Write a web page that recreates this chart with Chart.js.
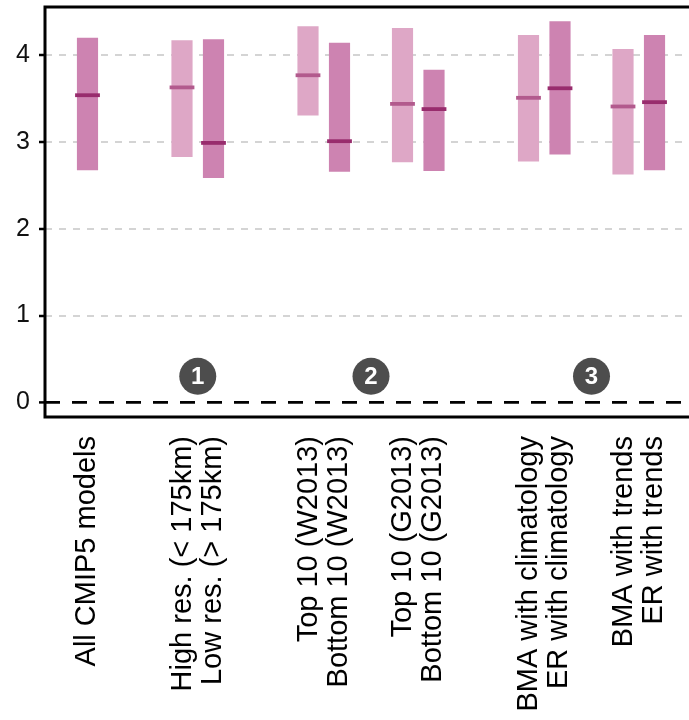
<!DOCTYPE html>
<html>
<head>
<meta charset="utf-8">
<script src="https://cdn.jsdelivr.net/npm/chart.js@4/dist/chart.umd.min.js"></script>
<style>
  html, body { margin: 0; padding: 0; background: #ffffff; overflow: hidden; }
  #wrap { width: 689px; height: 720px; }
</style>
</head>
<body>
<div id="wrap"><canvas id="chart" width="689" height="720"></canvas></div>
<script>
// ---- data -------------------------------------------------------------
// One entry per bar, left to right.
const barNames = [
  'All CMIP5 models',
  'High res. (< 175km)', 'Low res. (> 175km)',
  'Top 10 (W2013)', 'Bottom 10 (W2013)',
  'Top 10 (G2013)', 'Bottom 10 (G2013)',
  'BMA with climatology', 'ER with climatology',
  'BMA with trends', 'ER with trends'
];
const lower  = [2.68, 2.83, 2.59, 3.31, 2.66, 2.77, 2.67, 2.78, 2.86, 2.63, 2.68];
const median = [3.54, 3.63, 2.99, 3.77, 3.01, 3.44, 3.38, 3.51, 3.62, 3.41, 3.46];
const upper  = [4.20, 4.17, 4.18, 4.33, 4.14, 4.31, 3.83, 4.23, 4.39, 4.07, 4.23];
const shade  = ['dark', 'light', 'dark', 'light', 'dark', 'light', 'dark', 'light', 'dark', 'light', 'dark'];

// Bars that share one axis label.
const groups = [[0], [1, 2], [3, 4], [5, 6], [7, 8], [9, 10]];
// Numbered sections and the label groups each one covers.
const sectionNames  = ['1', '2', '3'];
const sectionGroups = [[1], [2, 3], [4, 5]];

const yTickValues = [0, 1, 2, 3, 4];
const yTickLabels = ['0', '1', '2', '3', '4'];

// ---- layout -----------------------------------------------------------
const FONT = '"Liberation Sans", Arial, Helvetica, sans-serif';
const Y_AXIS_W = 45;
const X_AXIS_H = 303;
const TOP_PAD = 7;
const X_MIN = -0.349, X_MAX = 20.095;
const Y_MIN = -0.17, Y_MAX = 4.557;
const LABEL_SIZE = 29, LABEL_LH = 1.05;
const SECTION_MARK_Y = 0.3;

const COLORS = {
  light: { bar: '#dea7c6', med: '#b25a8d' },
  dark:  { bar: '#cd83b1', med: '#982c6d' }
};

// slot of each bar along the axis: one empty slot between label groups,
// one more between numbered sections
const groupOfBar = [];
groups.forEach((bars, g) => bars.forEach(i => { groupOfBar[i] = g; }));
const sectionOfGroup = groups.map((_, g) => sectionGroups.findIndex(s => s.includes(g)) + 1);
const barPos = barNames.map((_, i) => i + groupOfBar[i] + sectionOfGroup[groupOfBar[i]] + 1);
const mean = a => a.reduce((s, v) => s + v, 0) / a.length;
const groupCenters = groups.map(bars => mean(bars.map(i => barPos[i])));
const sectionCenters = sectionGroups.map(gs => mean(gs.map(g => groupCenters[g])));

const isZero = c => c.tick && c.tick.value === 0;

// numbers inside the section badges, and the panel frame
const overlay = {
  id: 'overlay',
  afterDatasetsDraw(chart) {
    const ctx = chart.ctx;
    const meta = chart.getDatasetMeta(0);
    ctx.save();
    ctx.fillStyle = '#ffffff';
    ctx.font = 'bold 24px ' + FONT;
    ctx.textAlign = 'center';
    ctx.textBaseline = 'middle';
    meta.data.forEach((pt, i) => ctx.fillText(sectionNames[i], pt.x, pt.y + 1));
    ctx.restore();
  },
  afterDraw(chart) {
    const { left, top, bottom, right } = chart.chartArea;
    const ctx = chart.ctx;
    ctx.save();
    ctx.strokeStyle = '#000000';
    ctx.lineWidth = 3;
    ctx.lineJoin = 'miter';
    ctx.beginPath();
    ctx.moveTo(right + 4, top);
    ctx.lineTo(left, top);
    ctx.lineTo(left, bottom);
    ctx.lineTo(right + 4, bottom);
    ctx.stroke();
    ctx.restore();
  }
};

new Chart(document.getElementById('chart'), {
  type: 'bar',
  data: {
    datasets: [
      {
        type: 'scatter',
        label: 'sections',
        data: sectionCenters.map(x => ({ x, y: SECTION_MARK_Y })),
        pointRadius: 18.5,
        pointBackgroundColor: '#4d4d4d',
        pointBorderWidth: 0,
        order: 1
      },
      {
        type: 'scatter',
        label: 'median',
        data: barPos.map((x, i) => ({ x, y: median[i] })),
        pointStyle: 'line',
        pointRadius: 12.4,
        pointBorderWidth: 3.8,
        pointBorderColor: shade.map(s => COLORS[s].med),
        order: 2
      },
      {
        type: 'bar',
        label: 'range',
        data: barPos.map((x, i) => ({ x, y: [lower[i], upper[i]] })),
        backgroundColor: shade.map(s => COLORS[s].bar),
        borderWidth: 0,
        barThickness: 20.5,
        grouped: false,
        order: 3
      }
    ]
  },
  options: {
    responsive: false,
    maintainAspectRatio: false,
    animation: false,
    events: [],
    layout: { autoPadding: false, padding: { top: TOP_PAD, left: 0, right: 0, bottom: 0 } },
    plugins: { legend: { display: false }, tooltip: { enabled: false } },
    scales: {
      x: {
        type: 'linear',
        min: X_MIN,
        max: X_MAX,
        offset: false,
        afterBuildTicks: s => {
          // first line of a multi-line label sits on the tick, so shift the
          // tick back by half a line per extra line to centre the block
          const ppu = (s.chart.width - Y_AXIS_W) / (X_MAX - X_MIN);
          const lh = LABEL_SIZE * LABEL_LH;
          s.ticks = groupCenters.map((c, g) => ({ value: c - (groups[g].length - 1) * lh / 2 / ppu }));
        },
        afterFit: s => { s.height = X_AXIS_H; s.paddingLeft = 0; s.paddingRight = 0; },
        ticks: {
          autoSkip: false,
          minRotation: 90,
          maxRotation: 90,
          padding: 19,
          color: '#000000',
          font: { family: FONT, size: LABEL_SIZE, lineHeight: LABEL_LH },
          callback: (v, i) => groups[i].map(b => barNames[b])
        },
        grid: { display: false, drawTicks: false, offset: false },
        border: { display: false }
      },
      y: {
        min: Y_MIN,
        max: Y_MAX,
        afterBuildTicks: s => { s.ticks = yTickValues.map(v => ({ value: v })); },
        afterFit: s => { s.width = Y_AXIS_W; s.paddingTop = 0; s.paddingBottom = 0; },
        ticks: {
          padding: 9,
          color: '#111111',
          font: { family: FONT, size: 25 },
          callback: (v, i) => yTickLabels[i]
        },
        grid: {
          color: c => isZero(c) ? '#000000' : '#d4d4d4',
          lineWidth: c => isZero(c) ? 2.8 : 2,
          drawTicks: true,
          tickLength: 6,
          tickColor: '#000000',
          tickWidth: 2.5,
          tickBorderDash: []
        },
        border: {
          display: false,
          dash: c => isZero(c) ? [15, 12] : [7, 7]
        }
      }
    }
  },
  plugins: [overlay]
});
</script>
</body>
</html>
